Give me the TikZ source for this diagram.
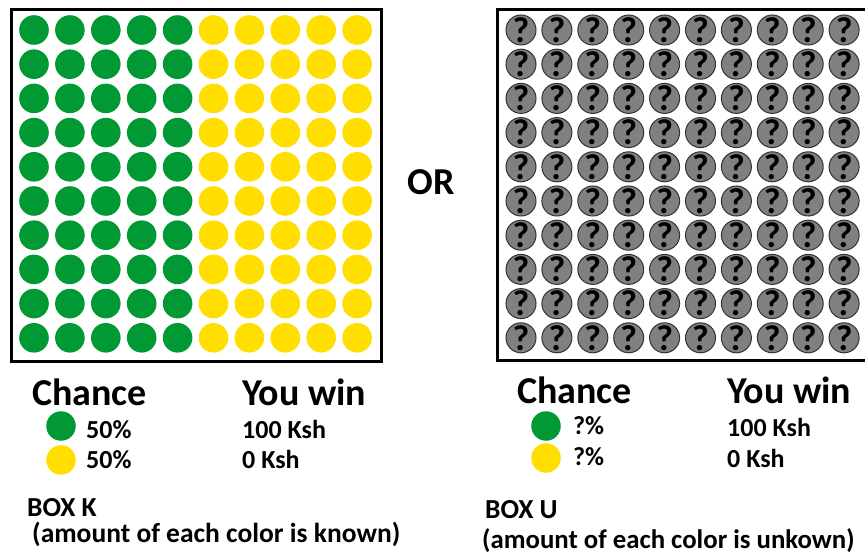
\documentclass[tikz,border=0pt]{standalone}
\usepackage{fontspec}
\setmainfont{Carlito}
\usetikzlibrary{positioning}

\begin{document}
\begin{tikzpicture}[
    x=1pt, y=-1pt,          % 1 drawing unit = 1 px of the sheet
    font=\bfseries,
    box/.style={draw=black,line width=3pt},
    head/.style={anchor=base west,inner sep=0pt,font=\bfseries\fontsize{38}{38}\selectfont},
    val/.style={anchor=base west,inner sep=0pt,font=\bfseries\fontsize{26}{26}\selectfont},
    note/.style={anchor=base west,inner sep=0pt,font=\bfseries\fontsize{27.5}{27.5}\selectfont},
    dot/.style={circle,inner sep=0pt,minimum size=29.5pt},
    qball/.style={dot,fill=ballQ,draw=black!80,line width=1pt,
                  font=\bfseries\fontsize{36}{36}\selectfont},
  ]
  \definecolor{ballG}{RGB}{0,153,51}
  \definecolor{ballY}{RGB}{255,222,0}
  \definecolor{ballQ}{RGB}{128,128,128}

  %% ---------------- sheet (px) ----------------
  \clip (0,0) rectangle (865,553);
  \fill[white] (0,0) rectangle (865,553);
  \def\DX{35.9}\def\DY{34.2}

  %% ---------------- box K ----------------
  \def\KX{34}\def\KY{30}
  \draw[box] (11,10) rectangle (381,362);
  \foreach \i in {0,...,4}{\foreach \j in {0,...,9}{
      \fill[ballG] ({\KX+\i*\DX},{\KY+\j*\DY}) circle (14.8);}}
  \foreach \i in {5,...,9}{\foreach \j in {0,...,9}{
      \fill[ballY] ({\KX+\i*\DX},{\KY+\j*\DY}) circle (14.8);}}

  \node[head] (kChance) at (32,405) {Chance};
  \node[head] (kWin) at (242,405) {You win};
  \node[dot,fill=ballG] (kG) at (61,426) {};
  \node[dot,fill=ballY] (kY) at (61,460) {};
  \node[val] (kGp) at (86,438) {50\%};
  \node[val] (kYp) at (86,468) {50\%};
  \node[val] (kGw) at (242,438) {100 Ksh};
  \node[val] (kYw) at (242,468) {0 Ksh};
  \node[note] (kName) at (27,516) {BOX K};
  \node[note] (kInfo) at (32,542) {(amount of each color is known)};

  %% ---------------- OR ----------------
  \node[inner sep=0pt,font=\bfseries\fontsize{38}{38}\selectfont] (or) at (431,182) {OR};

  %% ---------------- box U ----------------
  \def\UX{521}\def\UY{30}
  \draw[box] (497,10) rectangle (890,361);
  \foreach \i in {0,...,9}{\foreach \j in {0,...,9}{
      \node[qball] (q-\i-\j) at ({\UX+\i*\DX},{\UY+\j*\DY}) {?};}}

  \node[head] (uChance) at (517,403) {Chance};
  \node[head] (uWin) at (727,403) {You win};
  \node[dot,fill=ballG] (uG) at (546,426) {};
  \node[dot,fill=ballY] (uY) at (546,458) {};
  \node[val] (uGp) at (573,434) {?\%};
  \node[val] (uYp) at (573,465) {?\%};
  \node[val] (uGw) at (727,436) {100 Ksh};
  \node[val] (uYw) at (727,467) {0 Ksh};
  \node[note] (uName) at (485,518) {BOX U};
  \node[note,font=\bfseries\fontsize{26.8}{26.8}\selectfont] (uInfo) at (482,548)
        {(amount of each color is unkown)};
\end{tikzpicture}
\end{document}
